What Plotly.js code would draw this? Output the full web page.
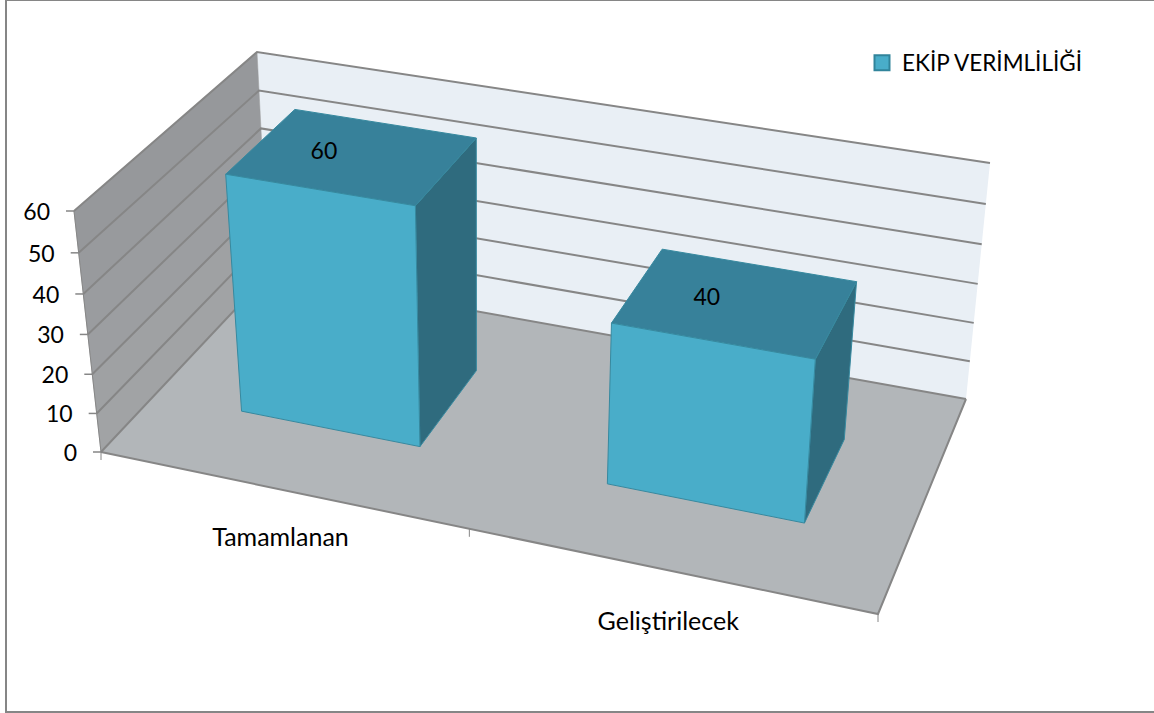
<!DOCTYPE html>
<html>
<head>
<meta charset="utf-8">
<script src="https://cdn.plot.ly/plotly-3.0.1.min.js"></script>
<style>html,body{margin:0;padding:0;background:#fff;overflow:hidden}#chart{width:1154px;height:713px}</style>
</head>
<body>
<div id="chart"></div>
<script>
// ---- data ----
const categories = ['Tamamlanan', 'Geliştirilecek'];
const values = [60, 40];
const seriesName = 'EKİP VERİMLİLİĞİ';
const yTicks = [0, 10, 20, 30, 40, 50, 60];

// ---- 3D view (corners of the plot box on the page) ----
const floorBox = [[101, 452], [878, 614], [966, 399], [268.5, 274]];
const roofBox = [[74, 211], [898, 354], [990, 163], [257, 52]];
const yMax = 60, persp = 0.05;
const barHalf = 0.125, barV0 = 0.30, barV1 = 0.70;

function homography(q) {
  const [A, B, C, D] = q;
  const dx1 = [B[0]-C[0], B[1]-C[1]], dx2 = [D[0]-C[0], D[1]-C[1]];
  const s = [A[0]-B[0]+C[0]-D[0], A[1]-B[1]+C[1]-D[1]];
  const det = (p, r) => p[0]*r[1]-p[1]*r[0];
  const g = det(s, dx2)/det(dx1, dx2), h = det(dx1, s)/det(dx1, dx2);
  const a = B[0]-A[0]+g*B[0], b = D[0]-A[0]+h*D[0];
  const d = B[1]-A[1]+g*B[1], e = D[1]-A[1]+h*D[1];
  return (u, v) => { const w = g*u+h*v+1; return [(a*u+b*v+A[0])/w, (d*u+e*v+A[1])/w]; };
}
const floorH = homography(floorBox), roofH = homography(roofBox);
function project(u, v, val) {
  const w = val/yMax, t = w/(1+persp*(1-w));
  const p = floorH(u, v), r = roofH(u, v);
  return [p[0]+(r[0]-p[0])*t, p[1]+(r[1]-p[1])*t];
}
function poly(pts, fill, line, width, name) {
  const c = pts.concat([pts[0]]);
  return {x: c.map(p=>p[0]), y: c.map(p=>p[1]), type: 'scatter', mode: 'lines', fill: 'toself',
    fillcolor: fill, line: {color: line, width: width}, hoverinfo: 'skip', showlegend: false, name: name||''};
}
function path(pts, color, width) {
  return {x: pts.map(p=>p[0]), y: pts.map(p=>p[1]), type: 'scatter', mode: 'lines',
    line: {color: color, width: width}, hoverinfo: 'skip', showlegend: false};
}
function label(pt, text, pos, size) {
  return {x: [pt[0]], y: [pt[1]], type: 'scatter', mode: 'text', text: [text], textposition: pos,
    textfont: {family: 'Lato, Carlito, sans-serif', size: size, color: '#000'}, hoverinfo: 'skip', showlegend: false};
}

const gridCol = '#868686', frontCol = '#49ADC9', topCol = '#37819A', sideCol = '#2F6B7E', edgeCol = '#37899F';
const wallBands = ['#A1A3A5', '#9FA1A3', '#9C9EA1', '#9A9C9F', '#989A9D', '#96989B'];
const digitSize = 23, catSize = 25;
const traces = [];

// back wall
traces.push(poly([project(0,1,0), project(1,1,0), project(1,1,yMax), project(0,1,yMax)], '#E9EFF5', 'rgba(0,0,0,0)', 0));
// left wall bands
for (let i = 0; i < yTicks.length-1; i++) {
  traces.push(poly([project(0,0,yTicks[i]), project(0,1,yTicks[i]), project(0,1,yTicks[i+1]), project(0,0,yTicks[i+1])], wallBands[i], wallBands[i], 0.5));
}
// floor
traces.push(poly([project(0,0,0), project(1,0,0), project(1,1,0), project(0,1,0)], '#B2B6B9', 'rgba(0,0,0,0)', 0));
// gridlines
yTicks.forEach(t => {
  traces.push(path([project(0,0,t), project(0,1,t), project(1,1,t)], gridCol, 2));
  const p = project(0,0,t);
  traces.push(path([[p[0]-8, p[1]], p], gridCol, 1.5));
  traces.push(label([p[0]-24, p[1]+3], String(t), 'middle left', digitSize));
});
// box edges
traces.push(path([project(0,0,0), project(0,0,yMax)], gridCol, 1));
traces.push(path([project(0,0,0), project(1,0,0), project(1,1,0)], gridCol, 2));
// category ticks
[0, 0.5, 1].forEach(u => { const p = project(u,0,0); traces.push(path([p, [p[0], p[1]+8]], gridCol, 1)); });
// bars
categories.forEach((cat, i) => {
  const uc = (i+0.5)/categories.length, u0 = uc-barHalf, u1 = uc+barHalf, val = values[i];
  traces.push(poly([project(u1,barV0,0), project(u1,barV1,0), project(u1,barV1,val), project(u1,barV0,val)], sideCol, edgeCol, 1, cat));
  traces.push(poly([project(u0,barV0,val), project(u1,barV0,val), project(u1,barV1,val), project(u0,barV1,val)], topCol, edgeCol, 1, cat));
  traces.push(poly([project(u0,barV0,0), project(u1,barV0,0), project(u1,barV0,val), project(u0,barV0,val)], frontCol, edgeCol, 1, cat));
  const c = project(uc, 0, 0);
  traces.push(label([c[0], c[1]+50+i*3], cat, 'middle center', catSize));
  const t = project(uc, 0.5, val);
  traces.push(label([t[0]-29, t[1]-3], String(val), 'middle center', digitSize));
});
// legend entry
traces.push({x: [null], y: [null], type: 'scatter', mode: 'markers', name: seriesName,
  marker: {symbol: 'square', size: 15, color: frontCol, line: {color: '#31849B', width: 2}}, hoverinfo: 'skip'});

const layout = {
  width: 1154, height: 713, margin: {l: 0, r: 0, t: 0, b: 0},
  paper_bgcolor: '#fff', plot_bgcolor: '#fff', hovermode: false,
  xaxis: {range: [0, 1154], visible: false, fixedrange: true},
  yaxis: {range: [713, 0], visible: false, fixedrange: true},
  showlegend: true,
  legend: {x: 862/1154, xanchor: 'left', y: 1-63/713, yanchor: 'middle', bgcolor: 'rgba(0,0,0,0)',
    font: {family: 'Lato, Carlito, sans-serif', size: 22.5, color: '#000'}},
  shapes: [{type: 'rect', xref: 'x', yref: 'y', x0: 6, x1: 1170, y0: 0, y1: 712, line: {color: '#868686', width: 2}, fillcolor: 'rgba(0,0,0,0)'}]
};
Plotly.newPlot('chart', traces, layout, {displayModeBar: false, staticPlot: true});
</script>
</body>
</html>
